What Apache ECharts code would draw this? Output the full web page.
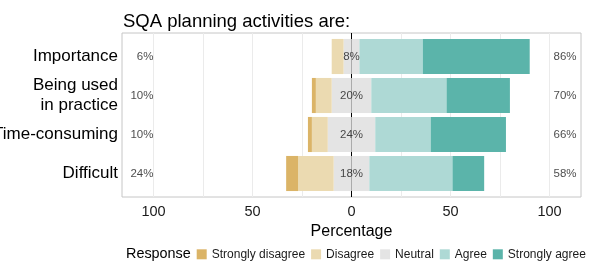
<!DOCTYPE html>
<html>
<head>
<meta charset="utf-8">
<script src="https://cdn.jsdelivr.net/npm/echarts@6/dist/echarts.min.js"></script>
<style>
html,body{margin:0;padding:0;background:#fff;}
#chart{width:598px;height:271px;}
</style>
</head>
<body>
<div id="chart"></div>
<script>
const categories = ['Importance', 'Being used\nin practice', 'Time-consuming', 'Difficult'];
const stronglyDisagree = [0, 2, 2, 6];
const disagree = [6, 8, 8, 18];
const neutral = [8, 20, 24, 18];
const agree = [32, 38, 28, 42];
const stronglyAgree = [54, 32, 38, 16];
const responses = ['Strongly disagree', 'Disagree', 'Neutral', 'Agree', 'Strongly agree'];
const tickLabels = [100, 50, 0, 50, 100];

const colors = {
  'Strongly disagree': '#dbb467',
  'Disagree': '#ebdab1',
  'Neutral': '#e4e4e4',
  'Agree': '#aed9d5',
  'Strongly agree': '#5bb4aa'
};
const FONT = 'Liberation Sans, Arial, Helvetica, sans-serif';

const chart = echarts.init(document.getElementById('chart'), null, {renderer: 'canvas'});

const leftPct = categories.map((c, i) => stronglyDisagree[i] + disagree[i]);
const rightPct = categories.map((c, i) => agree[i] + stronglyAgree[i]);

function barSeries(name, values) {
  return {
    type: 'bar', name: name, stack: 'likert',
    xAxisIndex: 2, yAxisIndex: 2,
    barCategoryGap: '10%',
    itemStyle: {color: colors[name]},
    emphasis: {disabled: true},
    silent: true,
    z: 2,
    data: values
  };
}

const labelSeries = (xs, vals, pos, dist) => ({
  type: 'scatter', xAxisIndex: 2, yAxisIndex: 2, symbolSize: 0, silent: true, z: 4,
  data: categories.map((c, i) => [xs, c, vals[i]]),
  label: {
    show: true, position: pos, distance: dist,
    formatter: p => p.value[2] + '%',
    fontFamily: FONT, fontSize: 11.5, color: '#1a1a1a'
  }
});

const option = {
  animation: false,
  backgroundColor: '#fff',
  title: [
    {text: 'SQA planning activities are:', left: 123, top: 12, padding: 0,
     textStyle: {fontFamily: FONT, fontSize: 18.5, fontWeight: 'normal', color: '#000'}},
    {text: 'Response', left: 126, top: 247, padding: 0,
     textStyle: {fontFamily: FONT, fontSize: 14.4, fontWeight: 'normal', color: '#000'}}
  ],
  legend: {
    data: responses, left: 196.7, top: 248.3, padding: 0,
    itemWidth: 10, itemHeight: 10, itemGap: 6, icon: 'rect',
    selectedMode: false,
    textStyle: {fontFamily: FONT, fontSize: 12, color: '#1a1a1a'}
  },
  grid: [
    {left: 103.97, top: 33, width: 495.05, height: 164, outerBoundsMode: 'none'},
    {left: 122, top: 33, width: 459, height: 164, show: true, borderColor: '#c6c6c6', borderWidth: 1, backgroundColor: 'rgba(0,0,0,0)', outerBoundsMode: 'none'},
    {left: 122, top: 37, width: 459, height: 156, outerBoundsMode: 'none'}
  ],
  xAxis: [
    {gridIndex: 0, type: 'value', min: -125, max: 125, interval: 25,
     axisLine: {show: false}, axisTick: {show: false},
     splitLine: {show: true, showMinLine: false, showMaxLine: false, lineStyle: {color: '#ebebeb', width: 1}},
     axisLabel: {
       margin: 7, fontFamily: FONT, fontSize: 14.5, color: '#1a1a1a',
       showMinLabel: false, showMaxLabel: false,
       formatter: v => {
         const idx = [-100, -50, 0, 50, 100].indexOf(v);
         return idx >= 0 ? String(tickLabels[idx]) : '';
       }
     },
     name: 'Percentage', nameLocation: 'middle', nameGap: 23,
     nameTextStyle: {fontFamily: FONT, fontSize: 16, color: '#000'}
    },
    {gridIndex: 1, type: 'value', show: false, min: -1, max: 1},
    {gridIndex: 2, type: 'value', show: false, min: -115.9, max: 115.9}
  ],
  yAxis: [
    {gridIndex: 0, type: 'value', show: false, min: 0, max: 1},
    {gridIndex: 1, type: 'value', show: false, min: 0, max: 1},
    {gridIndex: 2, type: 'category', data: categories, inverse: true,
     axisLine: {show: false}, axisTick: {show: false}, splitLine: {show: false},
     axisLabel: {margin: 4, fontFamily: FONT, fontSize: 17, lineHeight: 20, color: '#000'}
    }
  ],
  series: [
    {type: 'scatter', xAxisIndex: 0, yAxisIndex: 0, symbolSize: 0, silent: true, z: 1,
     data: [[0, 0.5]],
     markLine: {silent: true, symbol: 'none', z: 1, label: {show: false},
       lineStyle: {color: '#000', width: 1, type: 'solid'},
       data: [{xAxis: 0}]}
    },
    barSeries('Neutral', neutral.map(v => -v / 2)),
    barSeries('Neutral', neutral.map(v => v / 2)),
    barSeries('Disagree', disagree.map(v => -v)),
    barSeries('Agree', agree),
    barSeries('Strongly disagree', stronglyDisagree.map(v => -v)),
    barSeries('Strongly agree', stronglyAgree),
    labelSeries(0, neutral, 'inside', 0),
    labelSeries(-100, leftPct, 'left', 0),
    labelSeries(100, rightPct, 'right', 4)
  ]
};
chart.setOption(option);
</script>
</body>
</html>
